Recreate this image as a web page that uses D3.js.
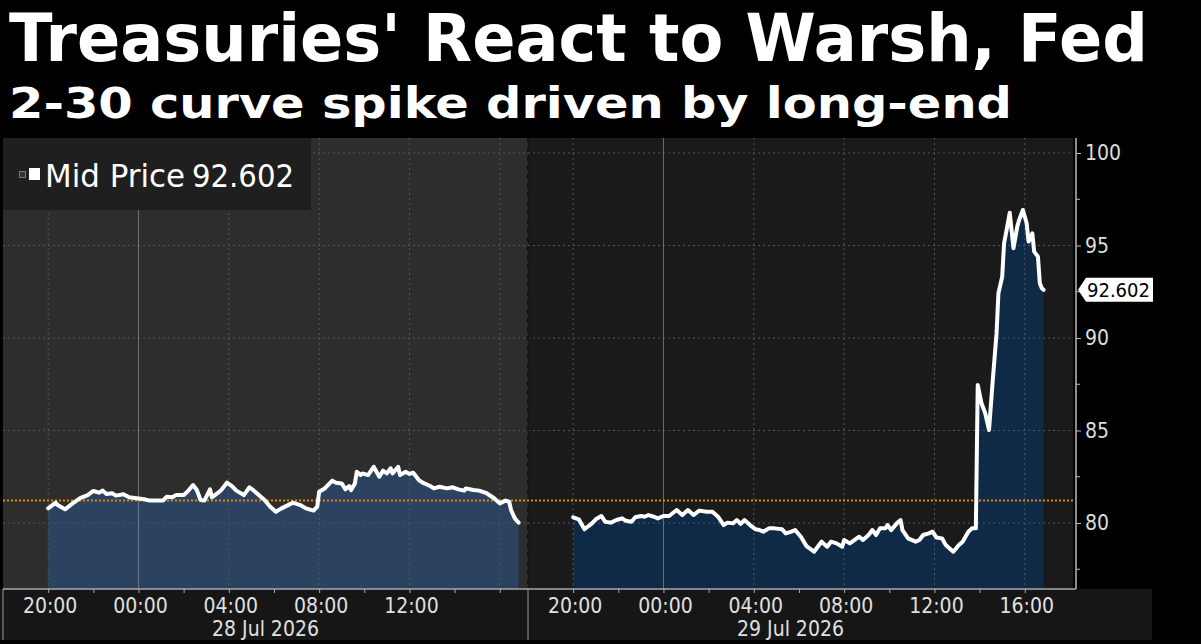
<!DOCTYPE html>
<html>
<head>
<meta charset="utf-8">
<script src="https://cdn.jsdelivr.net/npm/d3@7"></script>
<style>
  html, body { margin: 0; padding: 0; background: #000; }
  svg { display: block; }
</style>
</head>
<body>
<div id="chart"></div>
<script>
// Frame size and plot box
const FRAME_WIDTH = 1201;
const FRAME_HEIGHT = 644;
const PLOT = {left: 3, right: 1073, top: 138, bottom: 589};
const SPLIT_X = 528;

// Chart text
const TITLE = "Treasuries' React to Warsh, Fed";
const SUBTITLE = "2-30 curve spike driven by long-end";
const SERIES_NAME = "Mid Price";
const PREV_CLOSE = 81.22;

// Session of 28 Jul 2026 (starts 27 Jul 18:00)
const jul28Time = ["20:00","20:20","20:25","20:45","21:05","21:25","21:45","22:00","22:15","22:25",
  "22:35","22:50","23:00","23:20","23:35","23:55","00:15","00:30","00:50","01:05",
  "01:15","01:30","01:40","02:00","02:10","02:25","02:35","02:45","02:55","03:10",
  "03:15","03:30","03:40","03:55","04:10","04:20","04:40","04:55","05:10","05:25",
  "05:35","05:50","06:05","06:20","06:35","06:50","07:10","07:25","07:45","07:55",
  "08:00","08:15","08:35","08:45","09:00","09:10","09:20","09:25","09:35","09:40",
  "09:50","09:55","10:10","10:25","10:35","10:40","10:50","11:00","11:10","11:15",
  "11:30","11:35","11:50","12:00","12:10","12:25","12:35","12:55","13:05","13:20",
  "13:40","13:55","14:10","14:25","14:30","14:50","15:05","15:25","15:45","16:00",
  "16:15","16:25","16:30","16:40","16:50"];
const jul28Mid = [80.79,81.10,80.97,80.74,81.06,81.34,81.51,81.73,81.64,81.75,
  81.57,81.61,81.48,81.55,81.39,81.34,81.28,81.21,81.21,81.21,
  81.42,81.39,81.51,81.51,81.69,82.05,81.78,81.24,81.21,81.82,
  81.39,81.61,81.78,82.18,81.96,81.75,81.51,81.93,81.69,81.42,
  81.24,80.88,80.61,80.79,80.94,81.10,80.97,80.79,80.67,80.88,
  81.69,81.87,82.29,82.18,82.14,81.82,82.00,81.78,82.14,82.77,
  82.59,82.68,82.59,83.04,82.68,82.50,82.83,82.68,82.96,82.68,
  83.04,82.59,82.77,82.65,82.72,82.32,82.18,82.00,81.87,81.96,
  81.87,81.93,81.82,81.75,81.87,81.78,81.75,81.61,81.34,81.06,
  81.21,81.15,80.70,80.25,80.02];

// Session of 29 Jul 2026 (starts 28 Jul 18:00)
const jul29Time = ["20:00","20:15","20:30","20:50","21:00","21:15","21:25","21:40","21:55","22:10",
  "22:20","22:35","22:45","23:00","23:10","23:20","23:35","23:45","00:00","00:15",
  "00:35","00:50","01:05","01:20","01:35","01:55","02:10","02:25","02:40","02:50",
  "03:05","03:15","03:25","03:35","03:50","04:05","04:15","04:25","04:40","04:55",
  "05:15","05:25","05:40","05:50","06:05","06:20","06:40","07:00","07:15","07:25",
  "07:40","07:55","08:00","08:15","08:30","08:40","08:50","09:05","09:15","09:25",
  "09:35","09:50","09:55","10:05","10:20","10:30","10:35","10:50","11:10","11:20",
  "11:30","11:45","11:55","12:05","12:20","12:30","12:50","13:05","13:15","13:30",
  "13:40","13:50","13:55","14:05","14:15","14:25","14:35","14:45","14:50","15:00",
  "15:05","15:15","15:20","15:30","15:40","15:45","15:55","16:05","16:10","16:20",
  "16:25","16:35","16:40","16:45","16:50"];
const jul29Mid = [80.31,80.20,79.66,79.98,80.20,80.38,80.07,80.02,80.16,80.25,
  80.12,80.07,80.31,80.38,80.34,80.43,80.34,80.25,80.38,80.38,
  80.70,80.43,80.70,80.43,80.67,80.61,80.61,80.34,79.89,80.02,
  79.98,80.16,79.95,80.16,79.89,79.66,79.62,79.53,79.71,79.71,
  79.66,79.44,79.53,79.62,79.26,78.75,78.45,78.99,78.72,78.99,
  78.90,78.72,79.08,78.90,79.12,79.26,79.08,79.35,79.62,79.35,
  79.71,79.71,79.89,79.62,79.98,80.16,79.62,79.17,78.99,79.08,
  79.35,79.44,79.53,79.22,79.17,78.81,78.45,78.81,78.99,79.53,
  79.71,79.71,87.46,86.47,85.93,85.03,87.73,90.25,92.42,93.31,
  95.12,96.20,96.77,94.85,96.02,96.38,96.92,96.20,95.21,95.66,
  94.67,94.40,92.96,92.70,92.602];

// Axis labels and grid hours
const yTicks = [80, 85, 90, 95, 100];
const yMinorTicks = [77.5, 82.5, 87.5, 92.5, 97.5];
const gridHours = ["20:00", "00:00", "04:00", "08:00", "12:00", "16:00"];
const jul28Labels = ["20:00", "00:00", "04:00", "08:00", "12:00"];
const jul29Labels = ["20:00", "00:00", "04:00", "08:00", "12:00", "16:00"];

const AXIS_FONT = "'DejaVu Sans Condensed', 'Liberation Sans Narrow', 'DejaVu Sans', sans-serif";

// Turn "HH:MM" of a session into a date (evening hours belong to the day before)
function sessionDate(day, hhmm) {
  const [h, m] = hhmm.split(":").map(Number);
  const d = h >= 18 ? d3.timeDay.offset(day, -1) : day;
  return new Date(d.getFullYear(), d.getMonth(), d.getDate(), h, m);
}

const sessions = [
  {day: new Date(2026, 6, 28), label: "28 Jul 2026", times: jul28Time, mids: jul28Mid,
   ticks: jul28Labels, bg: "#2d2d2d", fill: "#2b4361", x0: PLOT.left, x1: SPLIT_X},
  {day: new Date(2026, 6, 29), label: "29 Jul 2026", times: jul29Time, mids: jul29Mid,
   ticks: jul29Labels, bg: "#1a1a1a", fill: "#0f2a46", x0: SPLIT_X, x1: PLOT.right}
];

// each session runs 18:00 -> 17:15 over the same width
const SESSION_PX = SPLIT_X - PLOT.left;
sessions.forEach(s => {
  s.x = d3.scaleTime()
    .domain([sessionDate(s.day, "18:00"), sessionDate(s.day, "17:15")])
    .range([s.x0, s.x0 + SESSION_PX]);
  s.data = s.times.map((t, i) => ({date: sessionDate(s.day, t), mid: s.mids[i]}));
});

const Y_SCALE = d3.scaleLinear().domain([80, 100]).range([523, 153]);

const FRAME = d3.select("#chart")
  .append("svg")
    .attr("width", FRAME_WIDTH)
    .attr("height", FRAME_HEIGHT)
    .style("background", "#000");

// Titles
FRAME.append("text")
  .attr("x", 9).attr("y", 61)
  .attr("fill", "#fff")
  .attr("font-family", "'DejaVu Sans', sans-serif")
  .attr("font-weight", "bold")
  .attr("font-size", 65)
  .attr("textLength", 1139)
  .attr("lengthAdjust", "spacingAndGlyphs")
  .text(TITLE);

FRAME.append("text")
  .attr("x", 9).attr("y", 118)
  .attr("fill", "#fff")
  .attr("font-family", "'DejaVu Sans', sans-serif")
  .attr("font-weight", "bold")
  .attr("font-size", 42)
  .attr("textLength", 1003)
  .attr("lengthAdjust", "spacingAndGlyphs")
  .text(SUBTITLE);

// Panel backgrounds
FRAME.selectAll(".panel")
  .data(sessions)
  .enter()
  .append("rect")
    .attr("x", d => d.x0)
    .attr("y", PLOT.top)
    .attr("width", d => d.x1 - d.x0)
    .attr("height", PLOT.bottom - PLOT.top)
    .attr("fill", d => d.bg);

// Filled areas under the line
sessions.forEach(s => {
  const area = d3.area()
    .x(d => s.x(d.date))
    .y0(PLOT.bottom)
    .y1(d => Y_SCALE(d.mid));
  FRAME.append("path")
    .datum(s.data)
    .attr("d", area)
    .attr("fill", s.fill);
});

// Horizontal grid
FRAME.selectAll(".hgrid")
  .data(yTicks)
  .enter()
  .append("line")
    .attr("x1", PLOT.left).attr("x2", PLOT.right)
    .attr("y1", d => Y_SCALE(d)).attr("y2", d => Y_SCALE(d))
    .attr("stroke", "#555")
    .attr("stroke-width", 1)
    .attr("stroke-dasharray", "2,3");

// Vertical grid every 4 hours, midnight drawn solid
sessions.forEach(s => {
  FRAME.selectAll(null)
    .data(gridHours)
    .enter()
    .append("line")
      .attr("x1", d => s.x(sessionDate(s.day, d)))
      .attr("x2", d => s.x(sessionDate(s.day, d)))
      .attr("y1", PLOT.top).attr("y2", PLOT.bottom)
      .attr("stroke", d => d === "00:00" ? "#8a8f96" : "#555")
      .attr("stroke-opacity", d => d === "00:00" ? 0.7 : 1)
      .attr("stroke-dasharray", d => d === "00:00" ? null : "2,3");
});

// Split between the two days
FRAME.append("line")
  .attr("x1", SPLIT_X).attr("x2", SPLIT_X)
  .attr("y1", PLOT.top).attr("y2", PLOT.bottom)
  .attr("stroke", "#111")
  .attr("stroke-width", 2)
  .attr("stroke-dasharray", "5,4");

// Previous close line
FRAME.append("line")
  .attr("x1", PLOT.left).attr("x2", PLOT.right)
  .attr("y1", Y_SCALE(PREV_CLOSE)).attr("y2", Y_SCALE(PREV_CLOSE))
  .attr("stroke", "#e08a00")
  .attr("stroke-width", 2)
  .attr("stroke-dasharray", "2,2");

// Price lines
sessions.forEach(s => {
  const line = d3.line()
    .x(d => s.x(d.date))
    .y(d => Y_SCALE(d.mid));
  FRAME.append("path")
    .datum(s.data)
    .attr("d", line)
    .attr("fill", "none")
    .attr("stroke", "#fff")
    .attr("stroke-width", 4)
    .attr("stroke-linejoin", "round")
    .attr("stroke-linecap", "round");
});

// Legend box
const last = jul29Mid[jul29Mid.length - 1];
const legend = FRAME.append("g");
legend.append("rect")
  .attr("x", PLOT.left).attr("y", PLOT.top)
  .attr("width", 308).attr("height", 72)
  .attr("fill", "#1f1f1f");
legend.append("rect")
  .attr("x", 19.5).attr("y", 171.5).attr("width", 6).attr("height", 6)
  .attr("fill", "#333").attr("stroke", "#777");
legend.append("rect")
  .attr("x", 29).attr("y", 168).attr("width", 11).attr("height", 12)
  .attr("fill", "#fff");
legend.append("text")
  .attr("x", 45).attr("y", 187)
  .attr("fill", "#fff")
  .attr("font-family", AXIS_FONT)
  .attr("font-size", 32)
  .attr("textLength", 140)
  .attr("lengthAdjust", "spacingAndGlyphs")
  .text(SERIES_NAME);
legend.append("text")
  .attr("x", 192).attr("y", 187)
  .attr("fill", "#fff")
  .attr("font-family", AXIS_FONT)
  .attr("font-size", 32)
  .attr("textLength", 102)
  .attr("lengthAdjust", "spacingAndGlyphs")
  .text(d3.format(".3f")(last));

// Right y axis
const yAxis = FRAME.append("g")
  .attr("transform", "translate(1076,0)")
  .call(d3.axisRight(Y_SCALE).tickValues(yTicks).tickSize(5).tickPadding(4));
yAxis.select(".domain").remove();
yAxis.selectAll(".tick line").attr("stroke", "#bbb");
yAxis.selectAll(".tick text")
  .attr("fill", "#ddd")
  .attr("font-family", AXIS_FONT)
  .attr("font-size", 21);

FRAME.selectAll(".yminor")
  .data(yMinorTicks)
  .enter()
  .append("line")
    .attr("x1", 1076).attr("x2", 1080)
    .attr("y1", d => Y_SCALE(d)).attr("y2", d => Y_SCALE(d))
    .attr("stroke", "#bbb");

FRAME.append("line")
  .attr("x1", 1076).attr("x2", 1076)
  .attr("y1", PLOT.top).attr("y2", PLOT.bottom)
  .attr("stroke", "#bbb")
  .attr("stroke-width", 1.5);

// Last value tag
const tagY = Y_SCALE(last);
FRAME.append("path")
  .attr("d", `M1078,${tagY} L1086,${tagY - 12} L1153,${tagY - 12} L1153,${tagY + 12} L1086,${tagY + 12} Z`)
  .attr("fill", "#fff");
FRAME.append("text")
  .attr("x", 1087).attr("y", tagY + 7)
  .attr("fill", "#000")
  .attr("font-family", AXIS_FONT)
  .attr("font-size", 20)
  .text(d3.format(".3f")(last));

// Bottom time axis band
FRAME.append("rect")
  .attr("x", 0).attr("y", PLOT.bottom)
  .attr("width", 1152).attr("height", 51)
  .attr("fill", "#161616");

sessions.forEach(s => {
  const tickDates = d3.timeHour.every(2).range(sessionDate(s.day, "20:00"), sessionDate(s.day, "17:00"));
  const axis = FRAME.append("g")
    .attr("transform", "translate(0," + PLOT.bottom + ")")
    .call(d3.axisBottom(s.x).tickValues(tickDates).tickSize(4).tickFormat(""));
  axis.select(".domain").remove();
  axis.selectAll(".tick line").attr("stroke", "#aaa");

  FRAME.selectAll(null)
    .data(s.ticks)
    .enter()
    .append("text")
      .attr("x", d => s.x(sessionDate(s.day, d)) + 2)
      .attr("y", 613)
      .attr("text-anchor", "middle")
      .attr("fill", "#e0e0e0")
      .attr("font-family", AXIS_FONT)
      .attr("font-size", 21)
      .text(d => d);

  FRAME.append("text")
    .attr("x", (s.x.range()[0] + s.x.range()[1]) / 2)
    .attr("y", 636)
    .attr("text-anchor", "middle")
    .attr("fill", "#e0e0e0")
    .attr("font-family", AXIS_FONT)
    .attr("font-size", 21)
    .text(s.label);

  FRAME.append("line")
    .attr("x1", s.x0).attr("x2", s.x0)
    .attr("y1", PLOT.bottom).attr("y2", 640)
    .attr("stroke", "#999");
});

FRAME.append("line")
  .attr("x1", PLOT.left).attr("x2", 1076)
  .attr("y1", PLOT.bottom).attr("y2", PLOT.bottom)
  .attr("stroke", "#aaa")
  .attr("stroke-width", 1.5);
</script>
</body>
</html>
